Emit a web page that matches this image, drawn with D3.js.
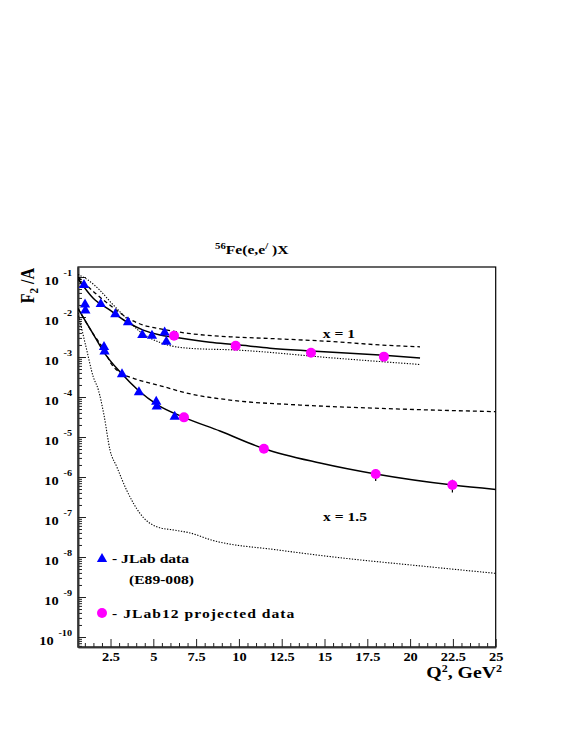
<!DOCTYPE html>
<html>
<head>
<meta charset="utf-8">
<script src="https://cdn.jsdelivr.net/npm/d3@7"></script>
<style>
  body { margin: 0; background: #fff; }
  svg { display: block; }
</style>
</head>
<body>
<div id="chart"></div>
<script>
const width = 581;
const height = 752;

// JLab E89-008 data (triangles)
var jlab_q2_x1 = [0.95, 1.93, 2.78, 3.52, 4.36, 4.92, 5.66, 5.76];
var jlab_f2_x1 = [6.3e-2, 2.1e-2, 1.17e-2, 7.4e-3, 3.55e-3, 3.4e-3, 4.1e-3, 2.4e-3];
var jlab_q2_x15 = [1.01, 1.03, 2.12, 2.15, 3.17, 4.16, 5.17, 5.2, 6.25];
var jlab_f2_x15 = [2.05e-2, 1.45e-2, 1.78e-3, 1.38e-3, 3.7e-4, 1.31e-4, 7.6e-5, 5.8e-5, 3.2e-5];

// JLab12 projected data (circles)
var jlab12_q2_x1 = [6.21, 9.81, 14.21, 18.47];
var jlab12_f2_x1 = [3.4e-3, 1.9e-3, 1.28e-3, 1.02e-3];
var jlab12_q2_x15 = [6.79, 11.46, 17.99, 22.47];
var jlab12_f2_x15 = [3.1e-5, 5.1e-6, 1.19e-6, 6.3e-7];
var jlab12_err_x15 = [0, 0, 0.4e-6, 2.2e-7];

// calculations, x = 1
var th_q2_x1_solid = [0.6, 1.49, 2.47, 3.44, 4.41, 5.39, 6.15, 8.31, 9.81, 11.81, 14.21, 18.47, 20.58];
var th_f2_x1_solid = [9.1e-2, 2.95e-2, 1.48e-2, 7.6e-3, 4.7e-3, 3.55e-3, 3.16e-3, 2.34e-3, 2.04e-3, 1.66e-3, 1.41e-3, 1.1e-3, 9.5e-4];
var th_q2_x1_dash = [0.6, 1.59, 2.53, 3.52, 4.4, 5.27, 7.03, 9.48, 11.81, 15.32, 18.24, 20.58];
var th_f2_x1_dash = [0.1, 4.0e-2, 1.88e-2, 9.3e-3, 6.3e-3, 5.2e-3, 3.9e-3, 3.2e-3, 2.9e-3, 2.45e-3, 2.0e-3, 1.8e-3];
var th_q2_x1_dot = [0.6, 1.18, 1.87, 2.55, 3.33, 4.22, 5.39, 7.03, 9.87, 15.71, 20.58];
var th_f2_x1_dot = [0.115, 8.4e-2, 4.7e-2, 2.24e-2, 1.02e-2, 4.3e-3, 2.3e-3, 1.66e-3, 1.49e-3, 9.3e-4, 6.5e-4];

// calculations, x = 1.5
var th_q2_x15_solid = [0.6, 1.42, 2.16, 3.13, 4.1, 5.27, 6.79, 8.89, 11.46, 14.74, 17.99, 22.49, 25];
var th_f2_x15_solid = [1.63e-2, 4.2e-3, 1.23e-3, 3.9e-4, 1.5e-4, 6.3e-5, 3.1e-5, 1.41e-5, 5.1e-6, 2.24e-6, 1.19e-6, 6.3e-7, 4.9e-7];
var th_q2_x15_dash = [0.6, 1.42, 2.12, 2.55, 3.17, 3.81, 5.47, 7.03, 9.48, 13.57, 18.24, 25];
var th_f2_x15_dash = [1.63e-2, 4.2e-3, 1.5e-3, 6.7e-4, 3.8e-4, 2.95e-4, 1.88e-4, 1.23e-4, 8.4e-5, 6.3e-5, 5.2e-5, 4.3e-5];
var th_q2_x15_dot = [0.6, 0.72, 1.11, 1.49, 1.79, 2.12, 2.47, 2.86, 3.44, 4.22, 5.2, 6.37, 7.14, 8.39, 12.28, 16.18, 20.07, 25];
var th_f2_x15_dot = [1.26e-2, 7.6e-3, 1.5e-3, 3.2e-4, 1.5e-4, 3.5e-5, 4.7e-6, 1.82e-6, 4.7e-7, 1.23e-7, 5.7e-8, 4.6e-8, 4.0e-8, 2.66e-8, 1.5e-8, 9.3e-9, 6.3e-9, 3.9e-9];

// axis ticks
var x_major = [2.5, 5, 7.5, 10, 12.5, 15, 17.5, 20, 22.5, 25];
var y_exponents = [-1, -2, -3, -4, -5, -6, -7, -8, -9, -10];

const font = "'Liberation Serif', 'Times New Roman', serif";
const sx = 1.2; // text is a bit wide in the original

var svg = d3.select("#chart")
  .append("svg")
  .attr("width", width)
  .attr("height", height)
  .style("font-family", font)
  .style("font-weight", "bold");

var x = d3.scaleLinear().domain([0.6, 25]).range([78, 495.7]);
var y = d3.scaleLog().domain([Math.pow(10, -10.25), Math.pow(10, -0.75)]).range([647, 267]);

function zip(a, b) { return a.map(function(v, i) { return [v, b[i]]; }); }

function stretchedText(px, py, size, anchor) {
  return svg.append("text")
    .attr("transform", "translate(" + px + "," + py + ") scale(" + sx + ",1)")
    .attr("font-size", size)
    .attr("text-anchor", anchor || "start")
    .attr("fill", "#000");
}

svg.append("clipPath").attr("id", "clip")
  .append("rect")
  .attr("x", x.range()[0]).attr("y", y.range()[1])
  .attr("width", x.range()[1] - x.range()[0])
  .attr("height", y.range()[0] - y.range()[1]);

// frame
svg.append("rect")
  .attr("x", x.range()[0]).attr("y", y.range()[1])
  .attr("width", x.range()[1] - x.range()[0])
  .attr("height", y.range()[0] - y.range()[1])
  .attr("fill", "none")
  .attr("stroke", "#000")
  .attr("stroke-width", 1.2);

// x axis
var x_minor = d3.range(1, 25, 0.5).filter(function(v) { return Math.abs(v / 2.5 - Math.round(v / 2.5)) > 1e-6; });
var gxMinor = svg.append("g")
  .attr("transform", "translate(0," + y.range()[0] + ")")
  .call(d3.axisBottom(x).tickValues(x_minor).tickSize(-4).tickSizeOuter(0).tickFormat(""));
var gx = svg.append("g")
  .attr("transform", "translate(0," + y.range()[0] + ")")
  .call(d3.axisBottom(x).tickValues(x_major).tickSize(-8).tickSizeOuter(0).tickPadding(5.5)
    .tickFormat(function(d) { return String(d); }));
gx.selectAll("text")
  .attr("font-size", 12)
  .attr("font-family", font)
  .attr("font-weight", "bold")
  .attr("fill", "#000")
  .attr("transform", "scale(" + sx + ",1)");

// y axis (log)
var y_minor = [];
y_exponents.concat([-11]).forEach(function(e) {
  for (var m = 2; m <= 9; m++) {
    var v = m * Math.pow(10, e);
    if (v > y.domain()[0] && v < y.domain()[1]) y_minor.push(v);
  }
});
var gyMinor = svg.append("g")
  .attr("transform", "translate(" + x.range()[0] + ",0)")
  .call(d3.axisLeft(y).tickValues(y_minor).tickSize(-4).tickSizeOuter(0).tickFormat(""));
var gy = svg.append("g")
  .attr("transform", "translate(" + x.range()[0] + ",0)")
  .call(d3.axisLeft(y).tickValues(y_exponents.map(function(e) { return Math.pow(10, e); }))
    .tickSize(-8).tickSizeOuter(0).tickFormat(""));

[gx, gxMinor, gy, gyMinor].forEach(function(g) {
  g.selectAll("line").attr("stroke", "#222").attr("stroke-width", 1);
  g.select(".domain").attr("stroke", "#333").attr("stroke-width", 1.6);
});

y_exponents.forEach(function(e) {
  var t = stretchedText(72, y(Math.pow(10, e)) + 8, 12, "end");
  t.append("tspan").text("10");
  t.append("tspan").attr("font-size", 8.5).attr("dx", 4).attr("dy", -9).text(String(e));
});

// theory curves
var line = d3.line()
  .x(function(d) { return x(d[0]); })
  .y(function(d) { return y(d[1]); })
  .curve(d3.curveMonotoneX);

var curves = [
  { q: th_q2_x1_solid, f: th_f2_x1_solid, w: 1.5, dash: null },
  { q: th_q2_x1_dash, f: th_f2_x1_dash, w: 1.3, dash: "4,3" },
  { q: th_q2_x1_dot, f: th_f2_x1_dot, w: 1.1, dash: "1.3,1.5" },
  { q: th_q2_x15_solid, f: th_f2_x15_solid, w: 1.5, dash: null },
  { q: th_q2_x15_dash, f: th_f2_x15_dash, w: 1.3, dash: "4,3" },
  { q: th_q2_x15_dot, f: th_f2_x15_dot, w: 1.1, dash: "1.3,1.5" }
];

var plot = svg.append("g").attr("clip-path", "url(#clip)");

plot.selectAll("path.curve")
  .data(curves)
  .enter()
  .append("path")
  .attr("class", "curve")
  .attr("d", function(c) { return line(zip(c.q, c.f)); })
  .attr("fill", "none")
  .attr("stroke", "#000")
  .attr("stroke-width", function(c) { return c.w; })
  .attr("stroke-dasharray", function(c) { return c.dash; });

// error bars on projected points
var errs = zip(jlab12_q2_x15, jlab12_f2_x15).map(function(d, i) { return [d[0], d[1], jlab12_err_x15[i]]; })
  .filter(function(d) { return d[2] > 0; });
plot.selectAll("line.err")
  .data(errs)
  .enter()
  .append("line")
  .attr("class", "err")
  .attr("x1", function(d) { return x(d[0]); })
  .attr("x2", function(d) { return x(d[0]); })
  .attr("y1", function(d) { return y(d[1] + d[2]); })
  .attr("y2", function(d) { return y(d[1] - d[2]); })
  .attr("stroke", "#000")
  .attr("stroke-width", 1.2);

// markers
var tri = d3.symbol().type(d3.symbolTriangle).size(46);

plot.selectAll("path.jlab")
  .data(zip(jlab_q2_x1, jlab_f2_x1).concat(zip(jlab_q2_x15, jlab_f2_x15)))
  .enter()
  .append("path")
  .attr("class", "jlab")
  .attr("d", tri)
  .attr("transform", function(d) { return "translate(" + x(d[0]) + "," + y(d[1]) + ")"; })
  .attr("fill", "#0000ff");

plot.selectAll("circle.jlab12")
  .data(zip(jlab12_q2_x1, jlab12_f2_x1).concat(zip(jlab12_q2_x15, jlab12_f2_x15)))
  .enter()
  .append("circle")
  .attr("class", "jlab12")
  .attr("cx", function(d) { return x(d[0]); })
  .attr("cy", function(d) { return y(d[1]); })
  .attr("r", 5)
  .attr("fill", "#ff00ff");

// labels inside the plot
stretchedText(322.7, 338, 13).text("x = 1");
stretchedText(323, 520.5, 13).text("x = 1.5");

// legend
svg.append("path")
  .attr("d", tri)
  .attr("transform", "translate(102,559)")
  .attr("fill", "#0000ff");
stretchedText(112, 563, 13).text("- JLab data");
stretchedText(129, 584, 13).text("(E89-008)");
svg.append("circle")
  .attr("cx", 102).attr("cy", 613).attr("r", 5)
  .attr("fill", "#ff00ff");
stretchedText(112, 617.5, 13)
  .attr("textLength", 152)
  .attr("lengthAdjust", "spacing")
  .text("- JLab12 projected data");

// title
var title = stretchedText(215, 253.7, 13);
title.append("tspan").attr("font-size", 9).attr("dy", -5).text("56");
title.append("tspan").attr("dy", 5).text("Fe(e,e");
title.append("tspan").attr("font-size", 9).attr("dy", -5).text("/");
title.append("tspan").attr("dy", 5).text(" )X");

// axis titles
var xt = stretchedText(502, 678, 16.5, "end");
xt.append("tspan").text("Q");
xt.append("tspan").attr("font-size", 10).attr("dy", -6).text("2");
xt.append("tspan").attr("dy", 6).text(", GeV");
xt.append("tspan").attr("font-size", 10).attr("dy", -6).text("2");

var yt = svg.append("text")
  .attr("transform", "translate(33.5,268) rotate(-90) scale(1," + sx + ")")
  .attr("font-size", 16)
  .attr("text-anchor", "end")
  .attr("fill", "#000");
yt.append("tspan").text("F");
yt.append("tspan").attr("font-size", 11).attr("dy", 4).text("2");
yt.append("tspan").attr("dy", -4).text(" /A");
</script>
</body>
</html>
